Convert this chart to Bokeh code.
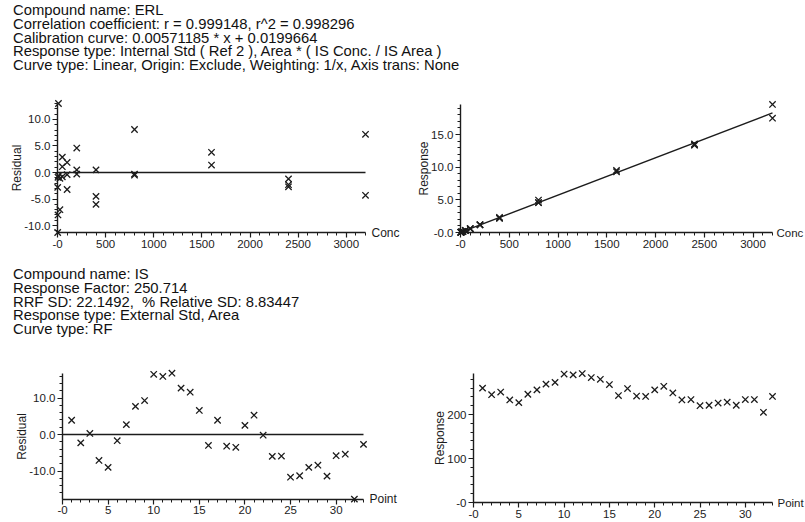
from bokeh.plotting import figure
from bokeh.models import (Div, Label, NumeralTickFormatter, SingleIntervalTicker,
                          Range1d, LinearAxis)
from bokeh.layouts import column, row
from bokeh.embed import file_html
from bokeh.resources import INLINE

# ---------------- data ----------------
header_erl = [
    "Compound name: ERL",
    "Correlation coefficient: r = 0.999148, r^2 = 0.998296",
    "Calibration curve: 0.00571185 * x + 0.0199664",
    "Response type: Internal Std ( Ref 2 ), Area * ( IS Conc. / IS Area )",
    "Curve type: Linear, Origin: Exclude, Weighting: 1/x, Axis trans: None",
]
header_is = [
    "Compound name: IS",
    "Response Factor: 250.714",
    "RRF SD: 22.1492,  % Relative SD: 8.83447",
    "Response type: External Std, Area",
    "Curve type: RF",
]

erl_conc = [2, 2, 5, 5, 10, 10, 25, 25, 50, 50, 50, 100, 100, 100, 200, 200, 200,
            400, 400, 400, 800, 800, 800, 1600, 1600, 2400, 2400, 2400, 3200, 3200]
erl_residual = [-2.8, -11.3, -0.9, -8.0, 13.0, -0.6, -7.0, -1.1, 2.9, 1.1, -0.8,
                1.9, -3.2, -0.4, 4.6, 0.5, -0.3, 0.5, -4.5, -6.0, 8.1, -0.3, -0.5,
                3.8, 1.4, -1.2, -2.3, -2.7, 7.2, -4.3]
erl_response = [0.03, 0.03, 0.05, 0.04, 0.09, 0.08, 0.15, 0.16, 0.31, 0.31, 0.30,
                0.60, 0.57, 0.59, 1.22, 1.17, 1.16, 2.32, 2.20, 2.17, 4.96, 4.58,
                4.57, 9.51, 9.29, 13.56, 13.41, 13.36, 19.6, 17.5]
cal_slope = 0.00571185
cal_intercept = 0.0199664

is_point = [1, 2, 3, 4, 5, 6, 7, 8, 9, 10, 11, 12, 13, 14, 15, 16, 17, 18, 19, 20,
            21, 22, 23, 24, 25, 26, 27, 28, 29, 30, 31, 32, 33]
is_residual = [3.9, -2.3, 0.3, -7.1, -9.0, -1.7, 2.7, 7.7, 9.3, 16.5, 15.9, 16.8,
               12.7, 11.6, 6.6, -3.0, 3.9, -3.2, -3.5, 2.5, 5.3, -0.2, -6.0, -5.9,
               -11.7, -11.3, -9.0, -8.4, -11.4, -5.8, -5.4, -17.7, -2.7]
is_response = [260, 245, 251, 233, 227, 246, 256, 269, 273, 292, 290, 293, 284, 280,
               268, 243, 259, 242, 241, 256, 264, 249, 233, 234, 220, 221, 226, 228,
               221, 234, 234, 205, 241]

FONT = "Liberation Sans"
INK = "#1c1c1c"


def make_panel(W, H, xa, pxa, xb, pxb, ya, pya, yb, pyb, x_bounds, y_bounds,
               x_interval, y_interval, x_fmt, y_fmt, x_over, y_over,
               y_label, x_label, y_label_standoff, x_label_offset=6, x_label_size="12px"):
    sx = (pxb - pxa) / (xb - xa)
    x0 = xa - pxa / sx
    x1 = x0 + W / sx
    sy = (pya - pyb) / (yb - ya)
    y1 = yb + pyb / sy
    y0 = y1 - H / sy
    p = figure(width=W, height=H, x_range=Range1d(x0, x1), y_range=Range1d(y0, y1),
               output_backend="svg", toolbar_location=None, title=None,
               x_axis_location=None, y_axis_location=None, min_border=0)
    p.outline_line_color = None
    p.xgrid.visible = False
    p.ygrid.visible = False
    p.background_fill_color = "white"
    p.border_fill_color = "white"

    xaxis = LinearAxis(fixed_location=y_bounds[0], bounds=x_bounds,
                       ticker=SingleIntervalTicker(interval=x_interval, num_minor_ticks=5),
                       formatter=NumeralTickFormatter(format=x_fmt),
                       major_label_overrides=x_over)
    yaxis = LinearAxis(fixed_location=x_bounds[0], bounds=y_bounds,
                       ticker=SingleIntervalTicker(interval=y_interval, num_minor_ticks=5),
                       formatter=NumeralTickFormatter(format=y_fmt),
                       major_label_overrides=y_over, axis_label=y_label,
                       axis_label_standoff=y_label_standoff)
    for ax in (xaxis, yaxis):
        ax.axis_line_color = INK
        ax.axis_line_width = 1.4
        ax.major_tick_line_color = INK
        ax.major_tick_line_width = 1.2
        ax.minor_tick_line_color = INK
        ax.minor_tick_line_width = 1.0
        ax.major_tick_in = 0
        ax.major_tick_out = 5
        ax.minor_tick_in = 0
        ax.minor_tick_out = 3
        ax.major_label_text_font = FONT
        ax.major_label_text_font_size = "11.5px"
        ax.major_label_text_color = INK
        ax.major_label_standoff = 2
        ax.axis_label_text_font = FONT
        ax.axis_label_text_font_size = "12px"
        ax.axis_label_text_font_style = "normal"
        ax.axis_label_text_color = INK
    p.add_layout(xaxis, "below")
    p.add_layout(yaxis, "left")
    p.add_layout(Label(x=x_bounds[1], y=y_bounds[0], x_offset=x_label_offset, text=x_label,
                       text_baseline="middle", text_font=FONT,
                       text_font_size=x_label_size, text_color=INK))
    return p


def header_div(lines, top, height):
    body = "\n".join(lines)
    html = ('<div style="font-family:\'Liberation Sans\',Arial,sans-serif;'
            'font-size:14.8px;line-height:13.75px;color:#111;'
            'padding-top:%dpx;padding-left:13px;white-space:pre;">%s</div>' % (top, body))
    return Div(text=html, width=805, height=height, margin=0)


MARK = dict(marker="x", size=9, line_color=INK, line_width=1.3)

# ---- ERL residual ----
p1 = make_panel(410, 180, 0, 57, 3200, 365, -11.3, 156, 13.0, 27,
                (0, max(erl_conc)), (min(erl_residual), max(erl_residual)),
                500, 5, "0", "0.0", {0: "-0"}, {}, "Residual", "Conc", -3)
p1.line([0, max(erl_conc)], [0, 0], line_color=INK, line_width=1.4)
p1.scatter(erl_conc, erl_residual, **MARK)

# ---- ERL response ----
p2 = make_panel(395, 180, 0, 50, 3200, 362, 0, 156, 15, 58,
                (0, max(erl_conc)), (0, max(erl_response)),
                500, 5, "0", "0.0", {0: "-0"}, {0: "-0.0"}, "Response", "Conc", -3,
                x_label_offset=4, x_label_size="11.5px")
cal_x = [0, max(erl_conc)]
p2.line(cal_x, [cal_slope * c + cal_intercept for c in cal_x], line_color=INK, line_width=1.4)
p2.scatter(erl_conc, erl_response, **MARK)

# ---- IS residual ----
p3 = make_panel(414, 182, 0, 62, 33, 363, 0, 94, 10, 57.5,
                (0, max(is_point)), (min(is_residual), max(is_residual)),
                5, 10, "0", "0.0", {0: "-0"}, {}, "Residual", "Point", -3)
p3.line([0, max(is_point)], [0, 0], line_color=INK, line_width=1.4)
p3.scatter(is_point, is_residual, **MARK)

# ---- IS response ----
p4 = make_panel(391, 182, 0, 59, 33, 358, 0, 162, 200, 74,
                (0, max(is_point)), (0, max(is_response)),
                5, 100, "0", "0", {0: "-0"}, {0: "-0"}, "Response", "Point", -3,
                x_label_offset=5, x_label_size="11.5px")
p4.scatter(is_point, is_response, **MARK)

layout = column(
    header_div(header_erl, 4, 76),
    row(p1, p2, spacing=0),
    header_div(header_is, 12, 84),
    row(p3, p4, spacing=0),
    spacing=0,
)

open("out.html", "w").write(file_html(layout, INLINE))
